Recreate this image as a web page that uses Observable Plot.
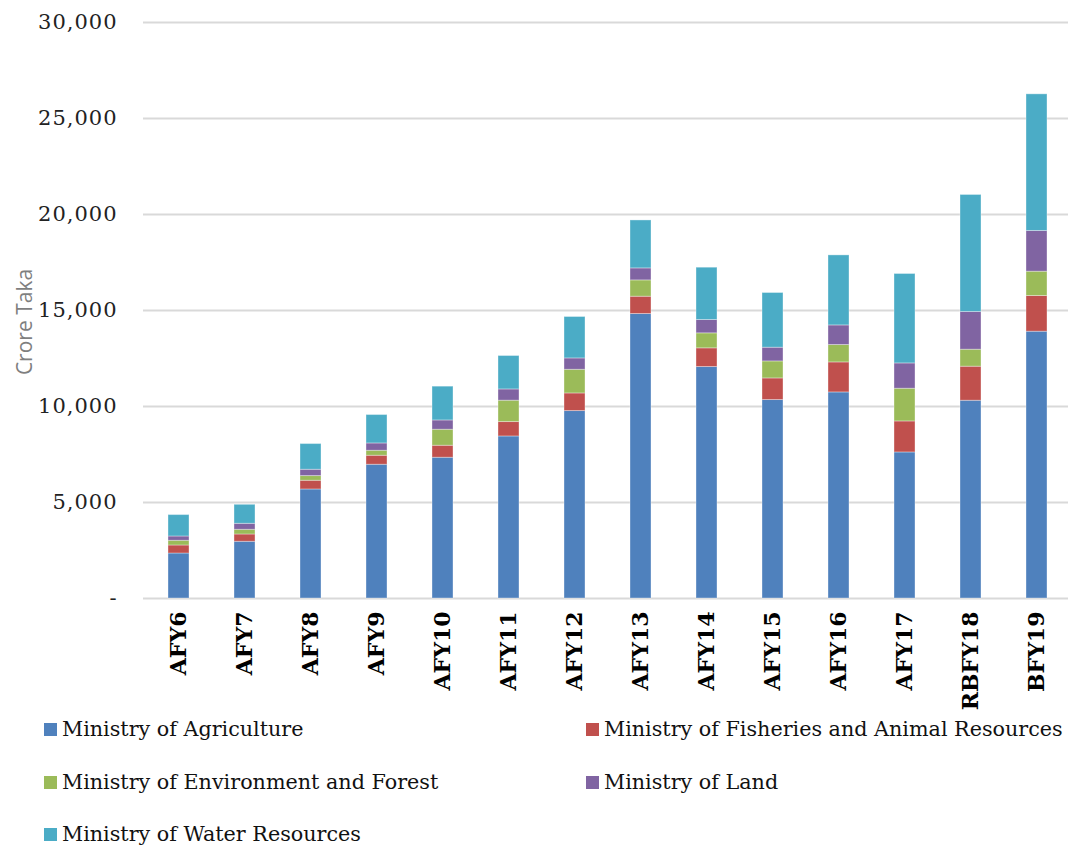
<!DOCTYPE html>
<html><head><meta charset="utf-8">
<script src="https://cdn.jsdelivr.net/npm/d3@7"></script>
<script src="https://cdn.jsdelivr.net/npm/@observablehq/plot@0.6"></script>
<style>
body{margin:0;background:#fff;}
#wrap{position:relative;width:1068px;}
#ylab{position:absolute;left:24px;top:322px;transform:translate(-50%,-50%) rotate(-90deg);font-family:"Open Sans";font-size:21px;color:#7f7f7f;white-space:nowrap;}
#legend{position:relative;height:133px;font-family:"DejaVu Serif";font-size:20.7px;color:#111;}
.item{position:absolute;display:flex;align-items:center;transform:translateY(-50%);white-space:nowrap;}
.sw{width:13px;height:13px;margin-right:5px;flex:none;}
.yax text{letter-spacing:1px;}
</style></head><body>
<div id="wrap"><div id="chart"></div><div id="ylab">Crore Taka</div></div>
<div id="legend"></div>
<script>
const years = ["AFY6","AFY7","AFY8","AFY9","AFY10","AFY11","AFY12","AFY13","AFY14","AFY15","AFY16","AFY17","RBFY18","BFY19"];
const ministries = ["Ministry of Agriculture","Ministry of Fisheries and Animal Resources","Ministry of Environment and Forest","Ministry of Land","Ministry of Water Resources"];
const colors = ["#4f81bd","#c0504d","#9bbb59","#8064a2","#4bacc6"];
const agriculture = [2344,2954,5679,6966,7331,8440,9763,14817,12056,10337,10733,7607,10300,13896];
const fisheries   = [417,380,453,469,625,750,917,901,973,1125,1563,1615,1773,1859];
const environment = [245,244,245,260,834,1113,1232,850,781,886,906,1703,885,1266];
const land        = [224,312,328,381,484,586,592,625,695,714,1021,1319,1963,2121];
const water       = [1115,990,1339,1479,1759,1740,2157,2497,2724,2849,3647,4657,6096,7116];
const yTicks = [0,5000,10000,15000,20000,25000,30000];

const seriesValues = [agriculture, fisheries, environment, land, water];
const rows = [];
ministries.forEach((m, i) => years.forEach((y, j) => rows.push({year: y, ministry: m, value: seriesValues[i][j]})));

const fmt = d3.format(",");
const chart = Plot.plot({
  width: 1068,
  height: 712,
  marginTop: 22,
  marginBottom: 114,
  marginLeft: 143,
  marginRight: 0,
  style: {background: "#fff"},
  x: {type: "band", domain: years, range: [144, 1071.5], paddingInner: 0.683, paddingOuter: 0.3415},
  y: {domain: [0, 30000]},
  color: {domain: ministries, range: colors},
  marks: [
    Plot.ruleY(yTicks, {stroke: "#d9d9d9", strokeWidth: 2}),
    Plot.barY(rows, {x: "year", y: "value", fill: "ministry", order: ministries, stroke: "#ffffff", strokeOpacity: 0.35, strokeWidth: 1}),
    Plot.axisY({ticks: yTicks, tickSize: 0, tickPadding: 26, label: null, tickFormat: d => d === 0 ? "-" : fmt(d), fontFamily: "DejaVu Serif", fontSize: 21, fill: "#222", className: "yax"}),
    Plot.axisX({tickSize: 0, tickPadding: 13, tickRotate: -90, label: null, fontFamily: "DejaVu Serif", fontWeight: "bold", fontSize: 22, fill: "#000"})
  ]
});
document.getElementById("chart").appendChild(chart);

const legend = document.getElementById("legend");
const pos = [[44,17],[586,17],[44,70],[586,70],[44,122]];
ministries.forEach((m, i) => {
  const d = document.createElement("div");
  d.className = "item";
  d.style.left = pos[i][0] + "px";
  d.style.top = pos[i][1] + "px";
  d.innerHTML = `<span class="sw" style="background:${colors[i]}"></span><span>${m}</span>`;
  legend.appendChild(d);
});
</script>
</body></html>
